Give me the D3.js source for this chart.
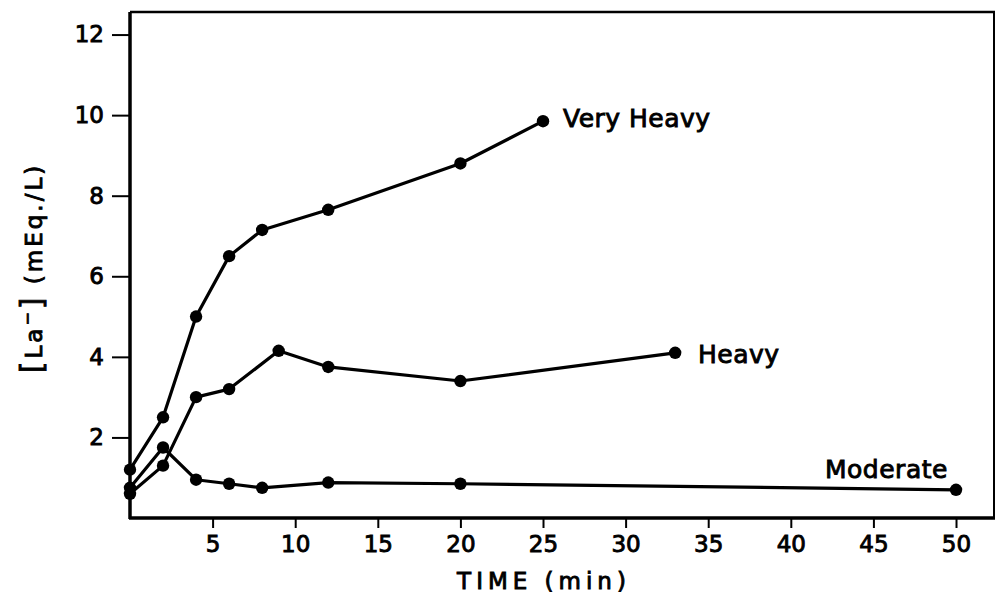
<!DOCTYPE html>
<html>
<head>
<meta charset="utf-8">
<script src="https://cdn.jsdelivr.net/npm/d3@7"></script>
<style>
  body { margin: 0; background: #fff; }
  svg { display: block; }
  text { font-family: "DejaVu Sans", sans-serif; fill: #000; }
</style>
</head>
<body>
<div id="chart"></div>
<script>
// ---- data ----
const veryHeavyTime = [0, 2, 4, 6, 8, 12, 20, 25];
const veryHeavyLa   = [1.2, 2.5, 5.0, 6.5, 7.15, 7.65, 8.8, 9.85];
const heavyTime = [0, 2, 4, 6, 9, 12, 20, 33];
const heavyLa   = [0.6, 1.3, 3.0, 3.2, 4.15, 3.75, 3.4, 4.1];
const moderateTime = [0, 2, 4, 6, 8, 12, 20, 50];
const moderateLa   = [0.75, 1.75, 0.95, 0.85, 0.75, 0.88, 0.85, 0.7];
const seriesNames = ["Very Heavy", "Heavy", "Moderate"];
const xTicks = [5, 10, 15, 20, 25, 30, 35, 40, 45, 50];
const yTicks = [2, 4, 6, 8, 10, 12];

const W = 996, H = 596;
const margin = {top: 12, right: 1, bottom: 78, left: 130};
const iw = W - margin.left - margin.right;
const ih = H - margin.top - margin.bottom;

const svg = d3.select("#chart").append("svg").attr("width", W).attr("height", H);
const g = svg.append("g").attr("transform", `translate(${margin.left},${margin.top})`);

const x = d3.scaleLinear().domain([0, 52.36]).range([0, iw]);
const y = d3.scaleLinear().domain([0, 12.56]).range([ih, 0]);

// frame top and right
g.append("line").attr("x1", 0).attr("x2", iw).attr("y1", 0).attr("y2", 0)
  .attr("stroke", "#000").attr("stroke-width", 2.5);
g.append("line").attr("x1", iw - 1).attr("x2", iw - 1).attr("y1", 0).attr("y2", ih)
  .attr("stroke", "#000").attr("stroke-width", 2);

// axes
const xAxis = g.append("g").attr("transform", `translate(0,${ih})`)
  .call(d3.axisBottom(x).tickValues(xTicks).tickSizeInner(10).tickSizeOuter(0).tickPadding(8));
const yAxis = g.append("g")
  .call(d3.axisLeft(y).tickValues(yTicks).tickSizeInner(18).tickSizeOuter(0).tickPadding(8));
[xAxis, yAxis].forEach(a => {
  a.select(".domain").attr("stroke", "#000").attr("stroke-width", 3.5);
  a.selectAll(".tick line").attr("stroke", "#000").attr("stroke-width", 2);
  a.selectAll(".tick text").attr("font-size", 23).attr("font-family", "DejaVu Sans")
    .attr("fill", "#000").attr("stroke", "#000").attr("stroke-width", 0.9);
});
xAxis.select(".domain").attr("d", `M-1,0H${iw}`);
yAxis.select(".domain").attr("d", `M0,${ih + 1}V0`);

// series
const series = [
  {name: seriesNames[0], t: veryHeavyTime, v: veryHeavyLa, lx: 563, ly: 118},
  {name: seriesNames[1], t: heavyTime, v: heavyLa, lx: 698, ly: 354},
  {name: seriesNames[2], t: moderateTime, v: moderateLa, lx: 825, ly: 469}
];
const line = d3.line().x(d => x(d[0])).y(d => y(d[1]));
series.forEach(s => {
  const pts = s.t.map((t, i) => [t, s.v[i]]);
  g.append("path").datum(pts).attr("d", line)
    .attr("fill", "none").attr("stroke", "#000").attr("stroke-width", 3.2)
    .attr("stroke-linejoin", "round");
  g.selectAll(null).data(pts).enter().append("circle")
    .attr("cx", d => x(d[0])).attr("cy", d => y(d[1])).attr("r", 6.2).attr("fill", "#000");
  svg.append("text").attr("x", s.lx).attr("y", s.ly).attr("dy", "0.36em")
    .attr("font-size", 25).attr("letter-spacing", 0.5)
    .attr("stroke", "#000").attr("stroke-width", 0.9)
    .text(s.name);
});

// x title
svg.append("text").attr("x", 544).attr("y", 581).attr("text-anchor", "middle")
  .attr("dy", "0.36em").attr("font-size", 23).attr("letter-spacing", 5)
  .attr("stroke", "#000").attr("stroke-width", 0.9)
  .text("TIME (min)");

// y title
const yt = svg.append("text").attr("transform", "translate(42,268) rotate(-90)")
  .attr("text-anchor", "middle").attr("font-size", 23).attr("letter-spacing", 3)
  .attr("stroke", "#000").attr("stroke-width", 0.9);
yt.append("tspan").attr("font-size", 30).text("[");
yt.append("tspan").text("La");
yt.append("tspan").attr("dy", -9).attr("font-size", 16).text("−");
yt.append("tspan").attr("dy", 9).attr("font-size", 30).text("]");
yt.append("tspan").text("  (mEq./L)");
</script>
</body>
</html>
